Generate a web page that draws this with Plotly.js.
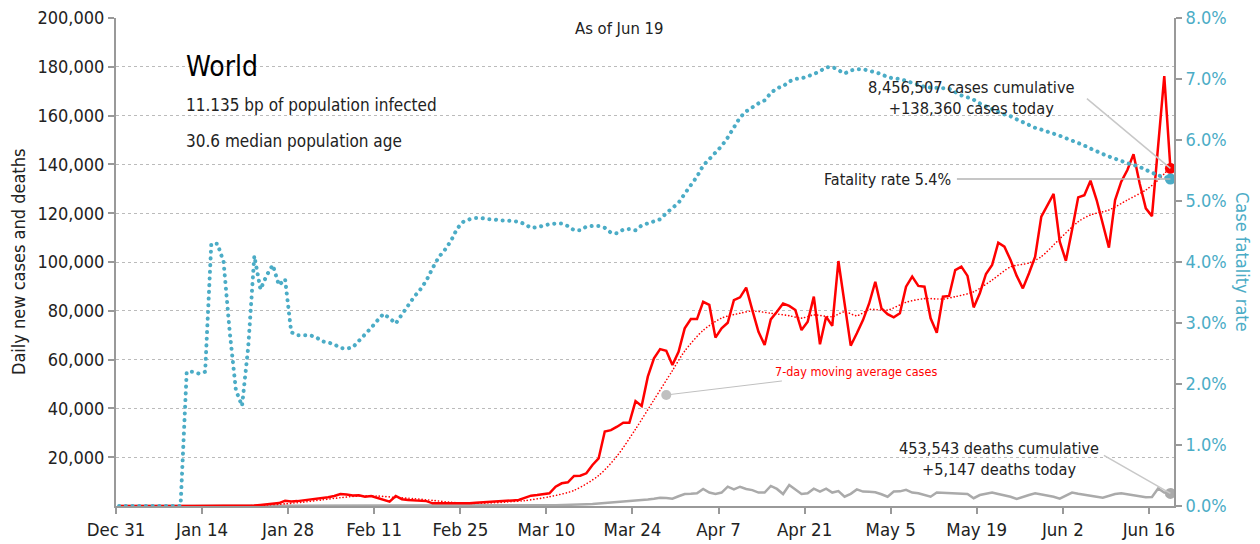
<!DOCTYPE html>
<html>
<head>
<meta charset="utf-8">
<script src="https://cdn.plot.ly/plotly-3.0.1.min.js"></script>
<style>
  html, body { margin: 0; padding: 0; background: #fff; }
  #chart { width: 1260px; height: 544px; }
  .js-line { stroke-linecap: round; }
</style>
</head>
<body>
<div id="chart"></div>
<script>
// daily values, Dec 31 2019 .. Jun 19 2020 (one per day)
const cases = [
  27, 0, 0, 17, 0, 15, 0, 0, 0, 0,
  0, 1, 0, 1, 1, 0, 4, 17, 136, 20,
  150, 150, 250, 450, 700, 900, 1200, 2100, 1800, 2000,
  2300, 2600, 2800, 3200, 3600, 4100, 4900, 4700, 4300, 4400,
  3800, 4100, 3400, 2700, 1800, 4100, 2800, 2500, 2300, 2200,
  2000, 1100, 1100, 1000, 900, 900, 1000, 1100, 1300, 1500,
  1700, 2000, 2000, 2100, 2300, 2460, 3400, 4230, 4500, 4900,
  5200, 7900, 9300, 9700, 12300, 12400, 13400, 16800, 19500, 30500,
  31100, 32500, 34100, 34100, 43000, 41000, 53000, 60500, 64300, 63600,
  57800, 63200, 72800, 76600, 76600, 83700, 82400, 69000, 72800, 75100,
  84400, 85500, 89500, 80300, 71400, 66000, 76500, 79600, 83000, 82000,
  80300, 72100, 75500, 85800, 66300, 77600, 73800, 100400, 83300, 65700,
  70800, 76200, 83000, 91900, 81000, 78600, 77300, 79000, 89900, 94000,
  90200, 89900, 76900, 71000, 85800, 86100, 96700, 98100, 94300, 81400,
  87200, 95100, 98800, 107900, 106300, 100800, 94300, 89200, 95400, 102200,
  118600, 123300, 127900, 108300, 100500, 113100, 126500, 127400, 133300, 125400,
  115200, 105900, 125400, 132900, 137700, 144200, 132200, 122000, 118800, 148000,
  176200, 138360
];

const deaths = [
  0, 0, 0, 0, 0, 0, 0, 0, 0, 0,
  0, 1, 0, 1, 0, 0, 0, 2, 1, 1,
  2, 10, 20, 25, 30, 40, 50, 55, 60, 90,
  50, 50, 60, 60, 70, 80, 80, 90, 100, 100,
  100, 110, 110, 120, 250, 140, 140, 140, 120, 100,
  100, 100, 80, 60, 80, 70, 60, 70, 60, 60,
  80, 70, 90, 100, 110, 130, 160, 200, 250, 270,
  300, 330, 350, 400, 500, 600, 700, 800, 1000, 1200,
  1400, 1600, 1700, 1800, 2100, 2500, 2700, 3000, 3400, 3300,
  3000, 4000, 4900, 5000, 5200, 7000, 5500, 4900, 5500, 7900,
  6800, 7900, 7000, 6500, 5500, 5500, 8200, 7000, 4900, 8600,
  6800, 4900, 5200, 7100, 5900, 7100, 5500, 6100, 3800, 5000,
  6800, 5900, 5800, 5600, 4800, 3800, 5900, 6000, 6600, 5500,
  5200, 4500, 3800, 5500, 5400, 5200, 4900, 4900, 4900, 3200,
  4500, 5000, 5500, 4900, 4500, 3800, 2900, 3800, 4500, 5200,
  4800, 4500, 3800, 3000, 4200, 5500, 5000, 4500, 4200, 3800,
  3400, 4200, 4900, 5200, 4800, 4500, 4000, 3600, 3700, 7200,
  5500, 5147
];

// case fatality rate, %
const fatality = [
  0, 0, 0, 0, 0, 0, 0, 0, 0, 0,
  0, 2.2, 2.2, 2.17, 2.2, 4.3, 4.3, 4.0, 2.85, 1.9,
  1.64, 2.6, 4.1, 3.55, 3.78, 3.95, 3.62, 3.72, 2.85, 2.8,
  2.8, 2.8, 2.77, 2.7, 2.68, 2.65, 2.59, 2.58, 2.6, 2.7,
  2.8, 2.92, 3.04, 3.15, 3.08, 2.99, 3.14, 3.3, 3.43, 3.55,
  3.7, 3.9, 4.08, 4.2, 4.35, 4.55, 4.66, 4.7, 4.72, 4.72,
  4.7, 4.7, 4.68, 4.68, 4.67, 4.66, 4.62, 4.56, 4.57, 4.6,
  4.62, 4.63, 4.63, 4.59, 4.52, 4.52, 4.58, 4.59, 4.59, 4.56,
  4.48, 4.47, 4.53, 4.54, 4.52, 4.6, 4.63, 4.67, 4.7, 4.8,
  4.88, 4.97, 5.12, 5.25, 5.4, 5.58, 5.68, 5.78, 5.9, 6.04,
  6.22, 6.37, 6.47, 6.54, 6.6, 6.65, 6.77, 6.85, 6.88, 6.96,
  7.0, 7.01, 7.04, 7.08, 7.13, 7.19, 7.2, 7.15, 7.09, 7.14,
  7.16, 7.16, 7.14, 7.11, 7.08, 7.03, 7.01, 7.0, 6.97, 6.94,
  6.91, 6.87, 6.86, 6.86, 6.85, 6.84, 6.78, 6.73, 6.7, 6.66,
  6.6, 6.55, 6.5, 6.46, 6.42, 6.39, 6.34, 6.29, 6.24, 6.2,
  6.17, 6.14, 6.11, 6.07, 6.03, 5.99, 5.96, 5.91, 5.86, 5.81,
  5.77, 5.73, 5.69, 5.65, 5.62, 5.59, 5.56, 5.51, 5.46, 5.42,
  5.39, 5.36
];

// 7-day moving average (day number since Dec 31)
const maDays = [0, 20, 24, 27, 30, 33, 36, 39, 42, 45, 48, 51, 54, 57, 60, 63, 66, 70, 74, 78,
  81, 84, 87, 90, 92, 95, 98, 101, 103, 106, 109, 111, 113, 116, 118, 120, 122, 125, 128, 131,
  134, 136, 139, 142, 145, 148, 150, 153, 156, 158, 161, 164, 167, 169, 171];
const maValues = [0, 50, 400, 900, 1600, 2500, 3400, 4100, 4100, 3500, 3000, 2300, 1500, 1100, 1200, 1600, 2200, 3800, 6400, 12500,
  20500, 31500, 43500, 55500, 63500, 72000, 77000, 79000, 79900, 79000, 78000, 77000, 78300, 77600, 79600, 78000, 80500, 80300, 83500, 85000,
  84800, 85800, 87800, 92600, 98000, 99600, 102200, 109500, 116500, 119300, 121300, 125400, 129500, 133600, 138900];

const maLabelDay = 89;
const maLabelValue = 45500;

const RED = '#ff0000';
const TEAL = '#4bacc6';
const GREY = '#aaaaaa';
const FONT = "'DejaVu Sans Condensed', 'Liberation Sans Narrow', 'Liberation Sans', sans-serif";

const START = Date.UTC(2019, 11, 31);
function dayStr(k) {
  const d = new Date(START + k * 86400000);
  return d.toISOString().slice(0, 10) + ' 12:00';
}

const days = cases.map((_, k) => dayStr(k));
const last = days.length - 1;
const yTicks = [20000, 40000, 60000, 80000, 100000, 120000, 140000, 160000, 180000, 200000];

const data = [
  {x: days, y: fatality, yaxis: 'y2', type: 'scatter', mode: 'lines',
   line: {color: TEAL, width: 4, dash: '0.1px,6.6px'}, hoverinfo: 'skip'},
  {x: days, y: deaths, type: 'scatter', mode: 'lines',
   line: {color: GREY, width: 2.5}, hoverinfo: 'skip'},
  {x: maDays.map(dayStr), y: maValues, type: 'scatter', mode: 'lines',
   line: {color: RED, width: 1.6, dash: '0.1px,3.2px', shape: 'spline', smoothing: 0.8}, hoverinfo: 'skip'},
  {x: days, y: cases, type: 'scatter', mode: 'lines',
   line: {color: RED, width: 2.5}, hoverinfo: 'skip'},
  {x: [days[last]], y: [deaths[last]], type: 'scatter', mode: 'markers',
   marker: {color: GREY, size: 11}},
  {x: [days[last]], y: [cases[last]], type: 'scatter', mode: 'markers',
   marker: {color: RED, size: 11}},
  {x: [days[last]], y: [fatality[last]], yaxis: 'y2', type: 'scatter', mode: 'markers',
   marker: {color: TEAL, size: 11}}
];

const axisLine = {showline: true, linecolor: '#999', linewidth: 2, ticks: 'outside',
  ticklen: 6, tickwidth: 1.5, tickcolor: '#999', zeroline: false};

// text labels whose own arrow is hidden; a separate leader line is drawn below
const hidden = 'rgba(0,0,0,0)';
function leader(x, y, yref, ax, ay, color) {
  return {x: x, y: y, yref: yref, text: '', showarrow: true, arrowhead: 0,
    arrowwidth: 1.5, arrowcolor: color, ax: ax, ay: ay};
}

const layout = {
  width: 1260,
  height: 544,
  margin: {l: 116, r: 86, t: 18, b: 38},
  paper_bgcolor: '#fff',
  plot_bgcolor: '#fff',
  showlegend: false,
  font: {family: FONT, size: 18, color: '#222'},
  xaxis: Object.assign({}, axisLine, {
    type: 'date',
    range: ['2019-12-31', '2020-06-20 02:00'],
    tick0: '2019-12-31',
    dtick: 14 * 86400000,
    tickformat: '%b %-d',
    showgrid: false,
    tickfont: {size: 18.5}
  }),
  yaxis: Object.assign({}, axisLine, {
    range: [0, 200000],
    tickvals: yTicks,
    tickformat: ',d',
    showgrid: true,
    gridcolor: '#bbb',
    griddash: 'dot',
    gridwidth: 1
  }),
  yaxis2: Object.assign({}, axisLine, {
    overlaying: 'y',
    side: 'right',
    range: [0, 8],
    dtick: 1,
    tickformat: '.1f',
    ticksuffix: '%',
    showgrid: false,
    tickfont: {color: TEAL}
  }),
  annotations: [
    {xref: 'paper', yref: 'paper', x: -0.0926, y: 0.5, xanchor: 'center', yanchor: 'middle',
     textangle: -90, showarrow: false, text: 'Daily new cases and deaths', font: {size: 18}},
    {xref: 'paper', yref: 'paper', x: 1.0652, y: 0.5, xanchor: 'center', yanchor: 'middle',
     textangle: 90, showarrow: false, text: 'Case fatality rate', font: {size: 18, color: TEAL}},
    {xref: 'paper', yref: 'paper', x: 0.475, y: 0.9795, xanchor: 'center', yanchor: 'middle',
     showarrow: false, text: 'As of Jun 19', font: {size: 16.5}},
    {xref: 'paper', yref: 'paper', x: 0.064, y: 0.8996, xanchor: 'left', yanchor: 'middle',
     showarrow: false, text: 'World', font: {size: 28, color: '#000'}},
    {xref: 'paper', yref: 'paper', x: 0.064, y: 0.822, xanchor: 'left', yanchor: 'middle',
     showarrow: false, text: '11.135 bp of population infected', font: {size: 17}},
    {xref: 'paper', yref: 'paper', x: 0.064, y: 0.748, xanchor: 'left', yanchor: 'middle',
     showarrow: false, text: '30.6 median population age', font: {size: 17}},
    {x: days[last], y: cases[last], text: '8,456,507 cases cumulative<br>+138,360 cases today',
     showarrow: true, arrowhead: 0, arrowwidth: 1, arrowcolor: hidden,
     ax: -199, ay: -70, font: {size: 16.3}},
    {x: days[last], y: fatality[last], yref: 'y2', text: 'Fatality rate 5.4%',
     showarrow: true, arrowhead: 0, arrowwidth: 1, arrowcolor: hidden,
     ax: -283, ay: 0, font: {size: 16}},
    {x: days[last], y: deaths[last], text: '453,543 deaths cumulative<br>+5,147 deaths today',
     showarrow: true, arrowhead: 0, arrowwidth: 1, arrowcolor: hidden,
     ax: -171, ay: -34, font: {size: 16.2}},
    leader(days[last], cases[last], 'y', -85, -71, '#c8c8c8'),
    leader(days[last], fatality[last], 'y2', -215, 0, '#b4b4b4'),
    leader(days[last], deaths[last], 'y', -68, -39, '#c8c8c8'),
    {x: dayStr(maLabelDay), y: maLabelValue, text: '7-day moving average cases',
     showarrow: true, arrowhead: 6, arrowsize: 2.5, arrowwidth: 1, arrowcolor: '#c0c0c0',
     ax: 190, ay: -23, font: {size: 12.5, color: RED}}
  ]
};

Plotly.newPlot('chart', data, layout, {displayModeBar: false, responsive: false});
</script>
</body>
</html>
